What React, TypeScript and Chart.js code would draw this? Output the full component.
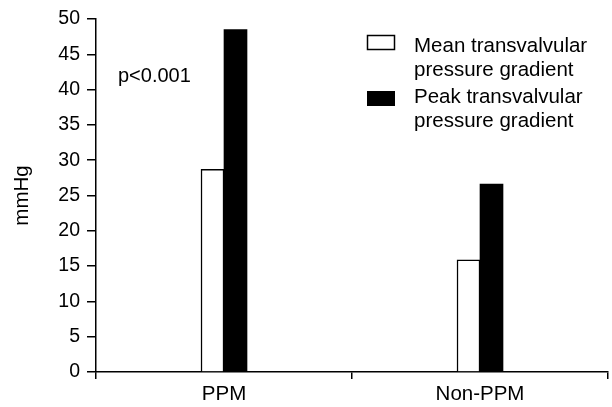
import React, { useEffect, useRef } from "react";
import { Chart, registerables } from "chart.js";

Chart.register(...registerables);

const categories = ["PPM", "Non-PPM"];
const meanGradient = [28.7, 15.9];
const peakGradient = [48.5, 26.6];
const seriesNames = ["Mean transvalvular pressure gradient", "Peak transvalvular pressure gradient"];
const legendLines = [
  ["Mean transvalvular", "pressure gradient"],
  ["Peak transvalvular", "pressure gradient"],
];
const annotationText = "p<0.001";
const yTitle = "mmHg";

const FONT = "'Liberation Sans', Arial, Helvetica, sans-serif";

const overlayPlugin = {
  id: "overlay",
  afterDraw(chart: any) {
    const ctx = chart.ctx;
    ctx.save();
    ctx.fillStyle = "#000";
    ctx.textAlign = "left";
    ctx.textBaseline = "alphabetic";
    ctx.font = `20px ${FONT}`;
    ctx.fillText(annotationText, 118, 82);

    // legend
    const boxX = 367.5;
    const boxW = 27;
    const boxH = 14;
    ctx.lineWidth = 1.5;
    ctx.strokeStyle = "#000";
    ctx.fillStyle = "#fff";
    ctx.fillRect(boxX, 35.5, boxW, boxH);
    ctx.strokeRect(boxX, 35.5, boxW, boxH);
    ctx.fillStyle = "#000";
    ctx.fillRect(boxX - 0.5, 91, boxW + 1, boxH + 1);

    ctx.fillStyle = "#000";
    ctx.font = `20.5px ${FONT}`;
    const baselines = [[52, 76], [103, 127]];
    legendLines.forEach((lines, i) => {
      lines.forEach((t, j) => {
        ctx.fillText(t, 414, baselines[i][j]);
      });
    });
    ctx.restore();
  },
};

export default function App() {
  const ref = useRef<HTMLCanvasElement | null>(null);
  useEffect(() => {
    if (!ref.current) return;
    Chart.defaults.font.family = FONT;
    Chart.defaults.color = "#000";
    const chart = new Chart(ref.current, {
      type: "bar",
      data: {
        labels: categories,
        datasets: [
          {
            label: seriesNames[0],
            data: meanGradient,
            backgroundColor: "#fff",
            borderColor: "#000",
            borderWidth: 1.5,
            barThickness: 23,
          },
          {
            label: seriesNames[1],
            data: peakGradient,
            backgroundColor: "#000",
            borderColor: "#000",
            borderWidth: 0,
            barThickness: 23,
          },
        ],
      },
      options: {
        responsive: false,
        animation: false,
        layout: { padding: { top: 19, right: 4, bottom: 0, left: 0 } },
        plugins: {
          legend: { display: false },
          tooltip: { enabled: false },
        },
        scales: {
          x: {
            offset: true,
            grid: {
              offset: true,
              drawOnChartArea: false,
              drawTicks: true,
              tickLength: 7,
              color: "#000",
              lineWidth: 1.5,
            },
            border: { display: true, color: "#000", width: 1.5 },
            ticks: { font: { size: 20.5 }, color: "#000", padding: 3 },
            afterFit: (s: any) => {
              s.height = 35;
            },
          },
          y: {
            min: 0,
            max: 50,
            ticks: { stepSize: 5, font: { size: 19.5 }, color: "#000", padding: 7 },
            grid: {
              drawOnChartArea: false,
              drawTicks: true,
              tickLength: 9,
              color: "#000",
              lineWidth: 1.5,
            },
            border: { display: true, color: "#000", width: 1.5 },
            title: {
              display: true,
              text: yTitle,
              font: { size: 20.5 },
              color: "#000",
              padding: { top: 9.7, bottom: 0 },
            },
            afterFit: (s: any) => {
              s.width = 96;
            },
          },
        },
      },
      plugins: [overlayPlugin],
    });
    return () => chart.destroy();
  }, []);
  return (
    <div style={{ position: "absolute", left: 0, top: 0, width: 612, height: 407, background: "#fff" }}>
      <canvas ref={ref} width={612} height={407} style={{ display: "block" }} />
    </div>
  );
}
